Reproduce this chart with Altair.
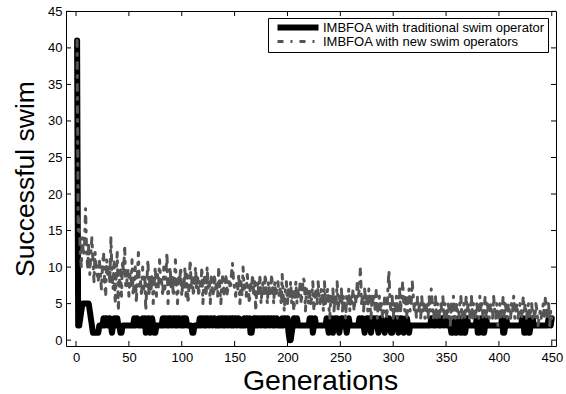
import altair as alt
import pandas as pd

# Successful swim per generation, IMBFOA with traditional swim operator
traditional = [
    41, 2, 2, 3, 4, 5, 5, 5, 5, 5,
    5, 5, 4, 3, 2, 1, 1, 1, 1, 1,
    1, 2, 2, 2, 2, 3, 2, 3, 3, 2,
    3, 3, 2, 1, 2, 3, 3, 2, 3, 2,
    2, 1, 1, 2, 2, 2, 2, 2, 2, 2,
    2, 2, 2, 2, 3, 2, 3, 3, 2, 2,
    2, 2, 3, 2, 3, 1, 2, 3, 3, 1,
    2, 3, 2, 1, 1, 2, 2, 2, 2, 2,
    2, 3, 2, 3, 3, 2, 3, 2, 3, 3,
    2, 3, 3, 2, 3, 2, 3, 3, 2, 2,
    3, 2, 3, 3, 2, 2, 2, 2, 2, 1,
    1, 2, 2, 2, 2, 2, 3, 2, 3, 3,
    2, 3, 2, 3, 3, 2, 3, 3, 2, 3,
    3, 2, 2, 2, 3, 2, 3, 3, 2, 3,
    2, 3, 3, 2, 3, 3, 2, 3, 2, 3,
    3, 2, 3, 3, 2, 2, 2, 2, 3, 2,
    3, 3, 2, 3, 1, 1, 2, 3, 3, 2,
    3, 2, 3, 3, 2, 3, 3, 2, 3, 2,
    3, 3, 2, 3, 3, 2, 3, 2, 3, 3,
    2, 2, 2, 2, 3, 2, 3, 3, 2, 3,
    1, 0, 0, 1, 2, 3, 3, 2, 3, 2,
    2, 2, 2, 2, 2, 2, 2, 2, 2, 2,
    3, 2, 3, 1, 2, 3, 2, 2, 2, 2,
    2, 2, 2, 2, 2, 2, 3, 2, 1, 2,
    3, 3, 1, 2, 3, 2, 3, 2, 1, 2,
    3, 3, 2, 3, 2, 1, 2, 3, 2, 2,
    2, 2, 2, 2, 2, 2, 2, 3, 2, 3,
    3, 2, 1, 2, 3, 3, 2, 3, 1, 2,
    3, 3, 2, 3, 2, 1, 2, 3, 3, 2,
    2, 1, 2, 2, 3, 3, 2, 1, 1, 2,
    3, 3, 2, 3, 1, 2, 3, 3, 2, 1,
    2, 3, 3, 2, 1, 2, 2, 2, 2, 2,
    2, 2, 2, 2, 2, 2, 2, 2, 2, 2,
    2, 2, 2, 2, 2, 3, 3, 2, 3, 2,
    3, 3, 2, 3, 2, 3, 3, 2, 3, 3,
    2, 3, 2, 2, 1, 1, 2, 3, 1, 1,
    2, 3, 3, 1, 2, 3, 1, 1, 2, 3,
    2, 2, 2, 2, 2, 2, 2, 2, 3, 1,
    1, 2, 3, 3, 1, 1, 2, 3, 2, 2,
    2, 2, 2, 2, 2, 2, 2, 2, 2, 2,
    2, 2, 3, 1, 1, 2, 3, 2, 2, 2,
    2, 2, 2, 2, 2, 2, 2, 2, 2, 2,
    2, 3, 3, 1, 1, 2, 3, 1, 1, 2,
    3, 3, 2, 2, 2, 2, 2, 2, 2, 2,
    2, 2, 2, 2, 2, 2, 3, 3, 2, 3,
]

# Successful swim per generation, IMBFOA with new swim operators
new_ops = [
    41, 15, 16.5, 12, 10, 14, 11.5, 13, 18, 12,
    10, 13, 9, 12, 14, 11, 8, 12, 10, 9,
    8, 11, 9, 7, 10, 12, 8, 6, 11, 9,
    10, 8, 14, 9, 7, 11, 5, 9, 12, 4,
    8, 10, 6, 11, 9, 13, 7, 8, 10, 6,
    9, 7, 11, 6, 8, 10, 5, 9, 12, 7,
    8, 6, 10, 7, 9, 4, 8, 11, 6, 9,
    7, 9, 5, 8, 10, 6, 9, 7, 11, 8,
    8, 6, 10, 7, 9, 12, 5, 8, 10, 7,
    9, 6, 8, 11, 7, 5, 9, 8, 10, 6,
    8, 7, 10, 6, 9, 5, 8, 11, 7, 9,
    6, 8, 10, 7, 9, 6, 8, 7, 10, 5,
    8, 9, 6, 10, 7, 8, 5, 9, 7, 6,
    9, 7, 8, 6, 10, 7, 5, 8, 9, 6,
    7, 9, 6, 8, 8, 7, 9, 10.5, 8, 7,
    6, 8, 7, 9, 5, 8, 6, 10, 7, 8,
    6, 9, 7, 5, 8, 7, 9, 6, 8, 4,
    7, 8, 6, 9, 5, 7, 8, 6, 9, 7,
    5, 8, 7, 6, 9, 7, 5, 8, 6, 7,
    8, 6, 7, 5, 9, 6, 4, 7, 8, 5,
    7, 6, 8, 5, 7, 4, 6, 8, 5, 7,
    6, 8, 5, 7, 8.5, 8, 4, 7, 6, 5,
    7, 5, 6, 8, 4, 6, 7, 5, 8, 6,
    5, 7, 6, 4, 8, 5, 6, 7, 5, 3,
    6, 5, 7, 4, 6, 5, 8, 4, 6, 5,
    7, 4, 6, 5, 3, 6, 5, 7, 4, 6,
    5, 7, 4, 6, 5, 8, 6, 7, 10, 5,
    6, 4, 7, 5, 6, 4, 7, 5, 3, 6,
    5, 6, 4, 7, 3, 5, 6, 4, 5, 3,
    4, 6, 5, 3, 7, 9.5, 5, 4, 6, 3,
    5, 4, 6, 3, 5, 7, 4, 6, 8, 5,
    4, 6, 3, 5, 7, 4, 5, 8, 6, 4,
    5, 3, 6, 4, 5, 3, 6, 4, 5, 3,
    4, 5, 3, 6, 4, 7, 5, 3, 4, 6,
    3, 5, 4, 3, 5, 4, 6, 3, 5, 4,
    3, 5, 4, 2, 5, 3, 6, 4, 3, 5,
    4, 3, 5, 6, 3, 4, 5, 3, 6, 4,
    5, 3, 4, 6, 3, 5, 4, 3, 5, 4,
    3, 6, 4, 5, 3, 4, 6, 3, 5, 4,
    3, 5, 4, 3, 6, 4, 3, 5, 2, 4,
    5, 3, 4, 6, 3, 5, 4, 3, 5, 4,
    3, 5, 4, 6, 3, 4, 5, 3, 4, 5,
    4, 3, 6, 4, 5, 3, 4, 5, 3, 4,
    5, 3, 4, 3, 5, 4, 2, 3, 4, 3,
    4, 5, 3, 6, 4, 3, 5, 2, 4, 3,
]

series_names = ["IMBFOA with traditional swim operator", "IMBFOA with new swim operators"]
x_ticks = [0, 50, 100, 150, 200, 250, 300, 350, 400, 450]
y_ticks = [0, 5, 10, 15, 20, 25, 30, 35, 40, 45]

rows = []
for i, v in enumerate(traditional):
    rows.append({"gen": i + 1, "val": v, "series": series_names[0]})
for i, v in enumerate(new_ops):
    rows.append({"gen": i + 1, "val": v, "series": series_names[1]})
df = pd.DataFrame(rows)

W, H = 490, 335
FONT = "Liberation Sans"

xscale = alt.Scale(domain=[-9.5, 454], nice=False, zero=False)
yscale = alt.Scale(domain=[-0.8, 45.05], nice=False, zero=False)

xaxis = alt.Axis(values=x_ticks, title="Generations", ticks=False, domain=False, grid=False,
                 labelPadding=5, titleFontSize=28.5, titleBaseline="alphabetic", titleY=43,
                 titleX=254, titleAlign="center")
yaxis = alt.Axis(values=y_ticks, title="Successful swim", ticks=False, domain=False, grid=False,
                 labelPadding=4, titlePadding=8, titleFontSize=26.5)

legend = alt.Legend(
    title=None, orient="none", legendX=202, legendY=7,
    fillColor="white", strokeColor="black", padding=3,
    symbolType="M-1,0H12.67", symbolSize=36, symbolOffset=3,
    labelFontSize=13, labelFont=FONT, labelColor="black", labelLimit=400,
    rowPadding=0, labelOffset=36, clipHeight=13,
)

color = alt.Color("series:N", scale=alt.Scale(domain=series_names, range=["#000000", "#555555"]), legend=legend)
dash = alt.StrokeDash("series:N", scale=alt.Scale(domain=series_names, range=[[1, 0], [6, 7, 2, 7]]), legend=legend)
swidth = alt.StrokeWidth("series:N", scale=alt.Scale(domain=series_names, range=[6, 3]), legend=legend)

def line_layer(name):
    return alt.Chart(df).transform_filter(alt.datum.series == name).mark_line(
        strokeCap="round", strokeJoin="round"
    ).encode(
        x=alt.X("gen:Q", scale=xscale, axis=xaxis),
        y=alt.Y("val:Q", scale=yscale, axis=yaxis),
        color=color, strokeDash=dash, strokeWidth=swidth,
    )

xt = pd.DataFrame({"gen": x_ticks})
yt = pd.DataFrame({"val": y_ticks})

bottom_ticks = alt.Chart(xt).mark_rule(color="black", strokeWidth=1).encode(
    x=alt.X("gen:Q", scale=xscale, axis=xaxis), y=alt.value(H), y2=alt.value(H - 5))
top_ticks = alt.Chart(xt).mark_rule(color="black", strokeWidth=1).encode(
    x=alt.X("gen:Q", scale=xscale, axis=xaxis), y=alt.value(0), y2=alt.value(5))
left_ticks = alt.Chart(yt).mark_rule(color="black", strokeWidth=1).encode(
    y=alt.Y("val:Q", scale=yscale, axis=yaxis), x=alt.value(0), x2=alt.value(5))
right_ticks = alt.Chart(yt).mark_rule(color="black", strokeWidth=1).encode(
    y=alt.Y("val:Q", scale=yscale, axis=yaxis), x=alt.value(W), x2=alt.value(W - 5))

chart = alt.layer(
    line_layer(series_names[0]), line_layer(series_names[1]),
    bottom_ticks, top_ticks, left_ticks, right_ticks,
).properties(
    width=W, height=H,
    autosize=alt.AutoSizeParams(type="none"),
    padding={"left": 66, "top": 11, "right": 10, "bottom": 48},
    background="white",
).configure_view(
    stroke="black", strokeWidth=1
).configure_axis(
    labelFont=FONT, labelFontSize=13, labelColor="black",
    titleFont=FONT, titleFontWeight="normal", titleColor="black",
)

chart.save("out.html", embed_options={"renderer": "svg", "actions": False})
